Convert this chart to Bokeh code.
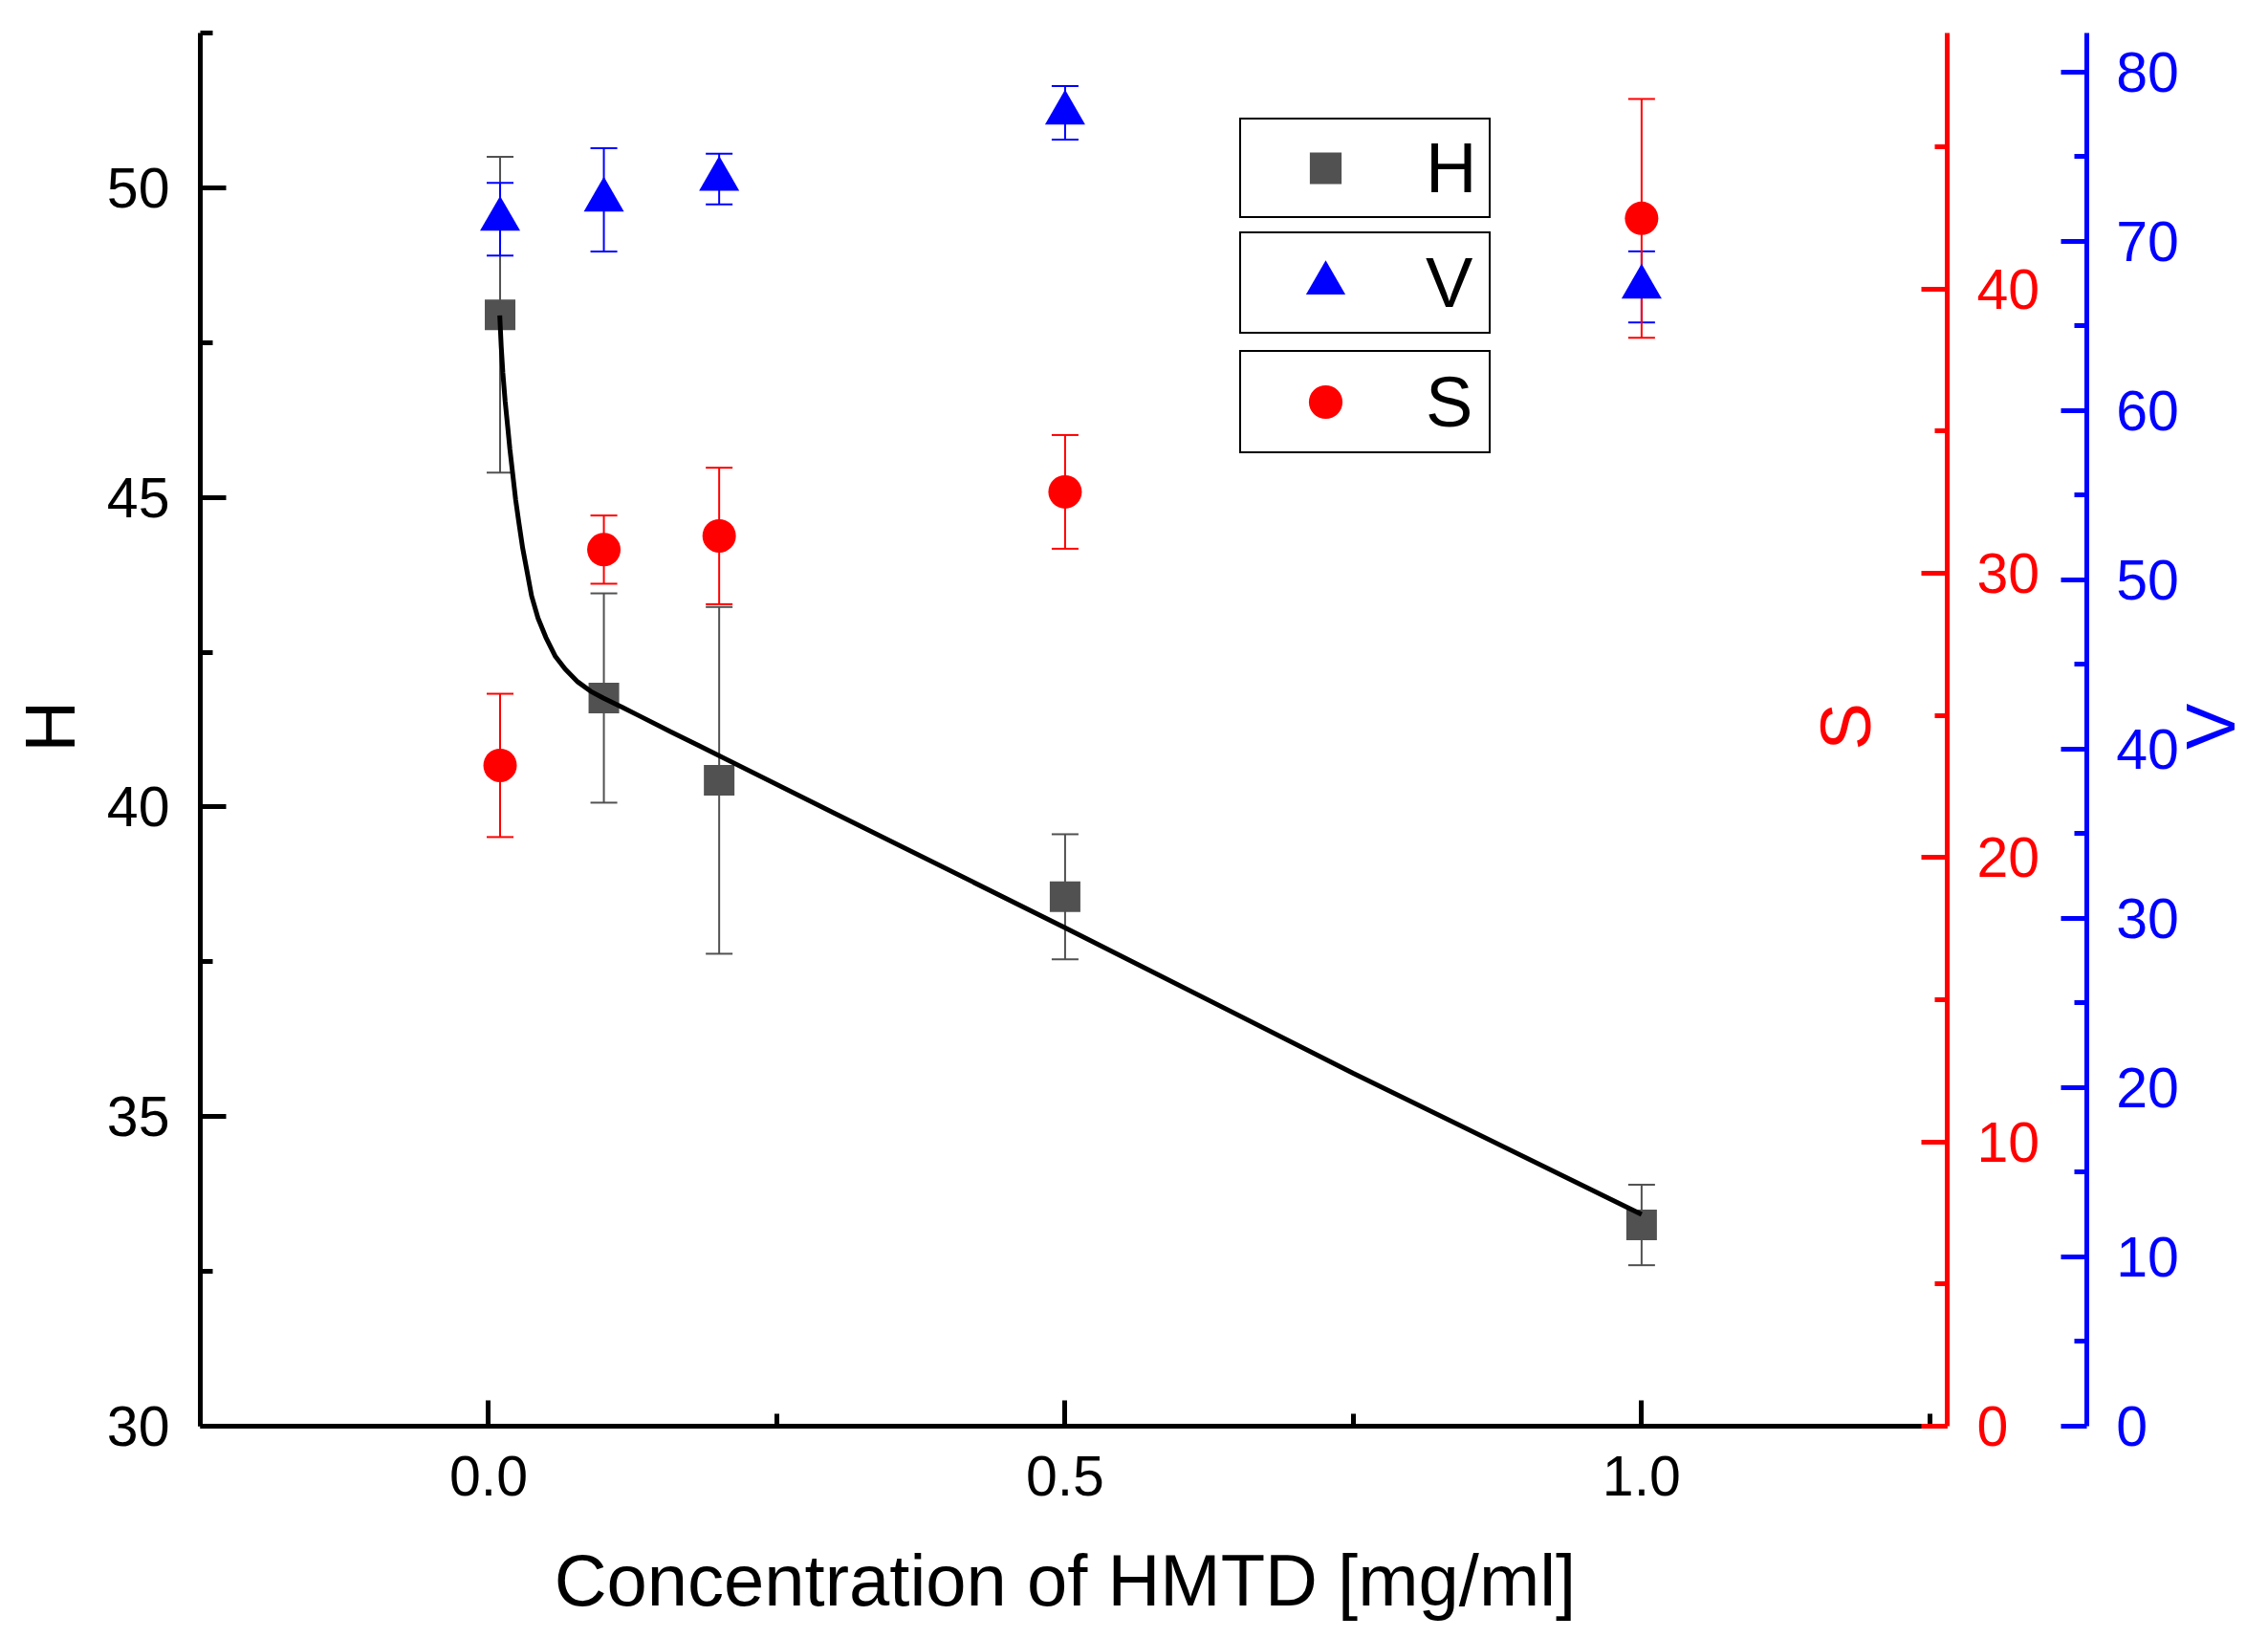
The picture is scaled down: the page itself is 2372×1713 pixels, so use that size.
import math

from bokeh.plotting import figure
from bokeh.models import (ColumnDataSource, Range1d, LinearAxis, FixedTicker,
                          Whisker, TeeHead, Legend, LegendItem, Label)
from bokeh.embed import file_html
from bokeh.resources import INLINE

FONT = "Liberation Sans"
GRAY = "#515151"
RED = "#FF0000"
BLUE = "#0000FF"

# --------------------------------------------------------------
# DATOS
# --------------------------------------------------------------

conc = [0.01, 0.1, 0.2, 0.5, 1.0]

h_vals = [47.95, 41.76, 40.43, 38.55, 33.25]
h_err = [2.55, 1.69, 2.80, 1.01, 0.65]

s_vals = [23.24, 30.83, 31.31, 32.86, 42.48]
s_err = [2.52, 1.20, 2.40, 2.00, 4.20]

v_vals = [71.30, 72.44, 73.67, 77.58, 67.30]
v_err = [2.15, 3.05, 1.50, 1.58, 2.10]

# curva de ajuste de H
fit_x = [0.0097, 0.0110, 0.0124, 0.0144, 0.0166, 0.0185, 0.0207, 0.0235,
         0.0263, 0.0296, 0.0332, 0.0373, 0.0429, 0.0497, 0.058, 0.0663,
         0.0774, 0.0884, 0.0995, 0.1161, 0.1299, 0.1575, 0.1824, 0.3,
         0.5, 0.75, 1.0]
fit_h = [47.94, 47.43, 47.01, 46.55, 46.14, 45.78, 45.42, 44.96,
         44.59, 44.18, 43.82, 43.41, 43.05, 42.74, 42.43, 42.23,
         42.02, 41.87, 41.76, 41.61, 41.48, 41.22, 40.99, 39.90,
         38.05, 35.70, 33.42]

x_ticks = [0.0, 0.5, 1.0]
x_tick_labels = ["0.0", "0.5", "1.0"]
x_minor = [-0.25, 0.25, 0.75, 1.25]
h_ticks = [30, 35, 40, 45, 50]
h_minor = [32.5, 37.5, 42.5, 47.5, 52.5]
s_ticks = [0, 10, 20, 30, 40]
s_minor = [5, 15, 25, 35, 45]
v_ticks = [0, 10, 20, 30, 40, 50, 60, 70, 80]
v_minor = [5, 15, 25, 35, 45, 55, 65, 75]

# --------------------------------------------------------------
# DISPOSICION: el area de datos ocupa todo el lienzo y los ejes
# se fijan dentro de ella (asi ningun texto queda recortado)
# --------------------------------------------------------------

X_BOUNDS = (-0.25, 1.265)
H_BOUNDS = (30, 52.5)
S_BOUNDS = (0, 49.0)
V_BOUNDS = (0, 82.3)
V_AXIS_AT = 1.3859

X_RANGE = (-0.4233, 1.5304)
H_RANGE = (26.819, 53.025)
S_RANGE = (-6.928, 50.143)
V_RANGE = (-11.636, 84.22)


def with_bars(vals, errs):
    return ColumnDataSource(dict(
        x=conc, y=vals,
        lo=[v - e for v, e in zip(vals, errs)],
        hi=[v + e for v, e in zip(vals, errs)]))


h_src = with_bars(h_vals, h_err)
s_src = with_bars(s_vals, s_err)
v_src = with_bars(v_vals, v_err)

# --------------------------------------------------------------
# GRAFICA
# --------------------------------------------------------------

p = figure(
    width=2356, height=1697,
    x_range=Range1d(*X_RANGE),
    y_range=Range1d(*H_RANGE),
    x_axis_location=None, y_axis_location=None,
    output_backend="svg",
    toolbar_location=None,
    min_border=0,)

p.extra_y_ranges = {"s": Range1d(*S_RANGE), "v": Range1d(*V_RANGE)}
p.xgrid.visible = False
p.ygrid.visible = False
p.outline_line_color = None


def make_axis(color, standoff, **kw):
    ax = LinearAxis(**kw)
    ax.axis_line_color = color
    ax.axis_line_width = 5
    ax.major_tick_line_color = color
    ax.minor_tick_line_color = color
    ax.major_tick_line_width = 5
    ax.minor_tick_line_width = 5
    ax.major_tick_in = 27
    ax.major_tick_out = 0
    ax.minor_tick_in = 13
    ax.minor_tick_out = 0
    ax.major_label_text_font = FONT
    ax.major_label_text_font_size = "59px"
    ax.major_label_text_color = color
    ax.major_label_standoff = standoff
    return ax


xa = make_axis("black", 31, fixed_location=H_BOUNDS[0], bounds=X_BOUNDS,
               ticker=FixedTicker(ticks=x_ticks, minor_ticks=x_minor))
xa.major_label_overrides = dict(zip(x_ticks, x_tick_labels))
p.add_layout(xa, "below")

ya = make_axis("black", 32, fixed_location=X_BOUNDS[0], bounds=H_BOUNDS,
               ticker=FixedTicker(ticks=h_ticks, minor_ticks=h_minor))
p.add_layout(ya, "left")

s_axis = make_axis(RED, 31, y_range_name="s", fixed_location=X_BOUNDS[1],
                   bounds=S_BOUNDS,
                   ticker=FixedTicker(ticks=s_ticks, minor_ticks=s_minor))
p.add_layout(s_axis, "right")

v_axis = make_axis(BLUE, 31, y_range_name="v", fixed_location=V_AXIS_AT,
                   bounds=V_BOUNDS,
                   ticker=FixedTicker(ticks=v_ticks, minor_ticks=v_minor))
p.add_layout(v_axis, "right")

# barras de error
for src, col, rng in [(h_src, GRAY, "default"), (v_src, BLUE, "v"), (s_src, RED, "s")]:
    p.add_layout(Whisker(
        source=src, base="x", upper="hi", lower="lo", y_range_name=rng,
        line_color=col, line_width=2,
        upper_head=TeeHead(size=28, line_color=col, line_width=2),
        lower_head=TeeHead(size=28, line_color=col, line_width=2),))

sq = p.scatter("x", "y", source=h_src, marker="square", size=32,
               fill_color=GRAY, line_color=None)
p.line(fit_x, fit_h, line_color="black", line_width=5)
tri = p.scatter("x", "y", source=v_src, marker="triangle", size=42,
                fill_color=BLUE, line_color=None, y_range_name="v")
circ = p.scatter("x", "y", source=s_src, marker="circle", size=35,
                 fill_color=RED, line_color=None, y_range_name="s")


# titulos de los ejes
def axis_title(x, y, text, color, size="74px", angle=math.pi / 2):
    p.add_layout(Label(x=x, y=y, text=text, angle=angle,
                       text_align="center", text_baseline="middle",
                       text_font=FONT, text_font_size=size, text_color=color))


axis_title(-0.3802, 41.3, "H", "black")
axis_title(1.177, 41.3, "S", RED)
axis_title(1.4939, 41.3, "V", BLUE, size="72px")
axis_title(0.5, 27.51, "Concentration of HMTD [mg/ml]", "black", size="76px",
           angle=0)

# leyendas en cajas separadas
legend_specs = [
    # etiqueta, renderer, y, padding, glyph_w, glyph_h, standoff, label_w
    ("H", sq, 1469, 8, 160, 83, 25, 58),
    ("V", tri, 1348, 0, 176, 103, 17, 66),
    ("S", circ, 1223, 8, 160, 88, 25, 58),
]
for lab, rend, vy, pad, gw, gh, ls, lw in legend_specs:
    leg = Legend(
        items=[LegendItem(label=lab, renderers=[rend])],
        location=(1296, vy),
        margin=0, padding=pad, spacing=0,
        glyph_width=gw, glyph_height=gh,
        label_standoff=ls, label_width=lw,
        label_text_font=FONT, label_text_font_size="74px",
        label_text_color="black",
        border_line_color="black", border_line_width=2, border_line_alpha=1.0,
        background_fill_color="white", background_fill_alpha=1.0,)
    p.add_layout(leg)

open("out.html", "w").write(file_html(p, INLINE))
